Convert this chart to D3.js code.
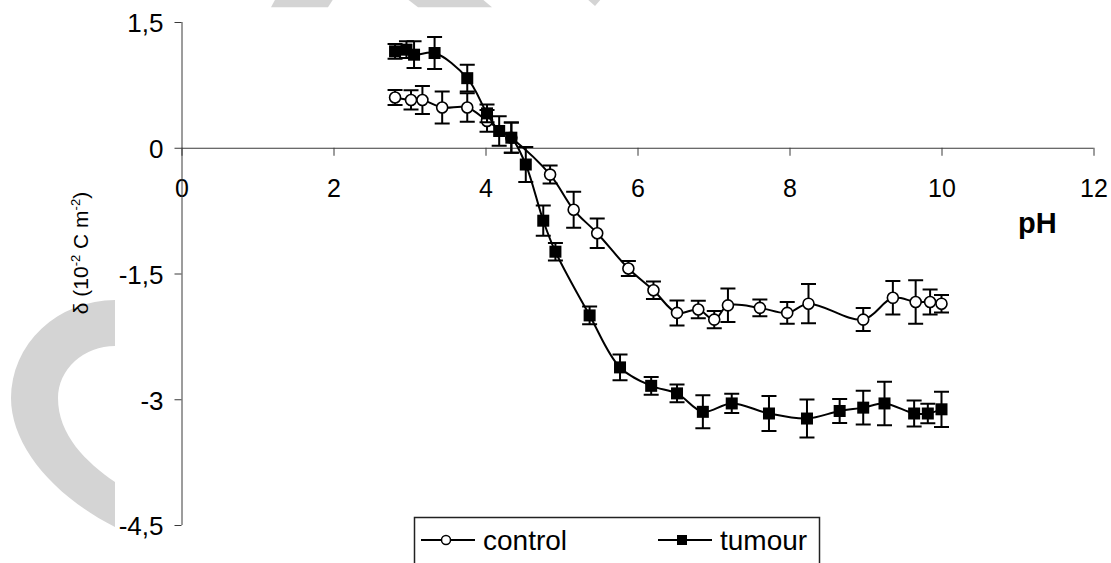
<!DOCTYPE html>
<html>
<head>
<meta charset="utf-8">
<script src="https://cdnjs.cloudflare.com/ajax/libs/d3/7.8.5/d3.min.js"></script>
<style>
  body { margin: 0; background: #fff; }
  svg { display: block; font-family: "Liberation Sans", Arial, sans-serif; }
</style>
</head>
<body>
<div class="chart"></div>
<script>
// pH values and surface charge density (10^-2 C m^-2)
var pHControl = [2.81, 3.02, 3.17, 3.43, 3.76, 4.02, 4.34, 4.85, 5.16, 5.47, 5.88, 6.21,
                 6.52, 6.80, 7.01, 7.19, 7.61, 7.97, 8.25, 8.97, 9.36, 9.66, 9.85, 10.0];
var control = [0.60, 0.57, 0.57, 0.48, 0.48, 0.32, 0.12, -0.32, -0.74, -1.02, -1.44, -1.70,
               -1.97, -1.93, -2.05, -1.88, -1.91, -1.97, -1.86, -2.05, -1.79, -1.84, -1.84, -1.86];
var controlErr = [0.09, 0.115, 0.167, 0.19, 0.17, 0.13, 0.18, 0.107, 0.215, 0.177, 0.09, 0.105,
                  0.149, 0.105, 0.103, 0.2, 0.1, 0.13, 0.234, 0.137, 0.2, 0.258, 0.149, 0.105];

var pHTumour = [2.81, 2.96, 3.06, 3.33, 3.76, 4.02, 4.18, 4.34, 4.53, 4.76, 4.92, 5.37, 5.77,
                6.18, 6.52, 6.86, 7.24, 7.73, 8.23, 8.66, 8.97, 9.25, 9.64, 9.82, 10.0];
var tumour = [1.15, 1.17, 1.11, 1.13, 0.83, 0.41, 0.20, 0.12, -0.20, -0.87, -1.24, -2.0, -2.62,
              -2.84, -2.93, -3.15, -3.05, -3.17, -3.23, -3.14, -3.10, -3.05, -3.17, -3.17, -3.12];
var tumourErr = [0.087, 0.1, 0.16, 0.19, 0.16, 0.105, 0.175, 0.18, 0.21, 0.18, 0.105, 0.105, 0.153,
                 0.105, 0.105, 0.197, 0.115, 0.21, 0.227, 0.143, 0.2, 0.26, 0.155, 0.115, 0.21];

var xTicks = [0, 2, 4, 6, 8, 10, 12];
var yTicks = [1.5, 0, -1.5, -3, -4.5];

var W = 1111, H = 563;
var x = d3.scaleLinear().domain([0, 12]).range([181.5, 1093.5]);
var y = d3.scaleLinear().domain([-4.5, 1.5]).range([525, 22]);
var fmt = function (d) { return String(d).replace('.', ','); };

var svg = d3.select('.chart').append('svg')
  .attr('width', W).attr('height', H);

// grey watermark pieces
var wm = svg.append('g').attr('fill', '#d4d4d4');
wm.append('path').attr('d', 'M276,-2L334,-2L328,7.3L271,7.3Z');
wm.append('path').attr('d', 'M406,-2L481,-2L492,7.3L418,7.3Z');
wm.append('path').attr('d', 'M586,-2L602,-2L595,6Z');
wm.append('path').attr('d',
  'M115,300 A104,98 0 0 0 11,398 C11,445 52,495 115,527 L115,482 ' +
  'C86,462 58,435 58,398 A57,52 0 0 1 115,346 Z');

// axes
var axisCol = '#3a3a3a';
var gx = svg.append('g').attr('transform', 'translate(0,' + y(0) + ')')
  .call(d3.axisBottom(x).tickValues(xTicks).tickSize(8).tickFormat(fmt));
gx.select('.domain').attr('stroke', axisCol).attr('d', 'M' + x(0) + ',0.5H' + x(12));
gx.selectAll('.tick line').attr('stroke', axisCol);
gx.selectAll('.tick text').attr('font-size', 25).attr('fill', '#000').attr('dy', 0)
  .attr('y', 49);

var gy = svg.append('g').attr('transform', 'translate(' + x(0) + ',0)')
  .call(d3.axisLeft(y).tickValues(yTicks).tickSize(7).tickFormat(fmt));
gy.select('.domain').attr('stroke', axisCol).attr('d', 'M0.5,' + y(1.5) + 'V' + y(-4.5));
gy.selectAll('.tick line').attr('stroke', axisCol);
gy.selectAll('.tick text').attr('font-size', 26).attr('fill', '#000')
  .attr('x', -18).attr('dy', '0.38em');

svg.append('text').attr('x', 1018).attr('y', 233)
  .attr('font-size', 29).attr('font-weight', 'bold').text('pH');

var yl = svg.append('text')
  .attr('transform', 'translate(88,253) rotate(-90)')
  .attr('text-anchor', 'middle').attr('font-size', 21);
yl.append('tspan').text('\u03b4 (10');
yl.append('tspan').attr('font-size', 13).attr('dy', -8).text('-2');
yl.append('tspan').attr('dy', 8).text(' C m');
yl.append('tspan').attr('font-size', 13).attr('dy', -8).text('-2');
yl.append('tspan').attr('dy', 8).text(')');

// series
var series = [
  { name: 'control', xs: pHControl, ys: control, err: controlErr, marker: 'circle' },
  { name: 'tumour', xs: pHTumour, ys: tumour, err: tumourErr, marker: 'square' }
];

var line = d3.line()
  .x(function (d) { return x(d.x); })
  .y(function (d) { return y(d.y); })
  .curve(d3.curveCatmullRom.alpha(0.5));

series.forEach(function (s) {
  var pts = s.xs.map(function (v, i) { return { x: v, y: s.ys[i], e: s.err[i] }; });
  var g = svg.append('g');
  g.append('path').datum(pts).attr('d', line)
    .attr('fill', 'none').attr('stroke', '#000').attr('stroke-width', 2);

  g.selectAll('.eb').data(pts).enter().append('path')
    .attr('fill', 'none').attr('stroke', '#000').attr('stroke-width', 2)
    .attr('d', function (d) {
      var cx = x(d.x), t = y(d.y + d.e), b = y(d.y - d.e);
      return 'M' + cx + ',' + t + 'V' + b +
        'M' + (cx - 7.5) + ',' + t + 'H' + (cx + 7.5) +
        'M' + (cx - 7.5) + ',' + b + 'H' + (cx + 7.5);
    });

  if (s.marker === 'circle') {
    g.selectAll('circle').data(pts).enter().append('circle')
      .attr('cx', function (d) { return x(d.x); })
      .attr('cy', function (d) { return y(d.y); })
      .attr('r', 5.5).attr('fill', '#fff').attr('stroke', '#000').attr('stroke-width', 1.6);
  } else {
    g.selectAll('rect').data(pts).enter().append('rect')
      .attr('x', function (d) { return x(d.x) - 6; })
      .attr('y', function (d) { return y(d.y) - 6; })
      .attr('width', 12).attr('height', 12).attr('fill', '#000');
  }
});

// legend
var lg = svg.append('g');
lg.append('rect').attr('x', 414.5).attr('y', 517.5).attr('width', 405).attr('height', 70)
  .attr('fill', '#fff').attr('stroke', '#222').attr('stroke-width', 1.5);
lg.append('line').attr('x1', 421).attr('x2', 475).attr('y1', 540).attr('y2', 540)
  .attr('stroke', '#000').attr('stroke-width', 2);
lg.append('circle').attr('cx', 446).attr('cy', 540).attr('r', 4.5)
  .attr('fill', '#fff').attr('stroke', '#000').attr('stroke-width', 1.5);
lg.append('text').attr('x', 483).attr('y', 550).attr('font-size', 28).text('control');
lg.append('line').attr('x1', 658).attr('x2', 712).attr('y1', 540).attr('y2', 540)
  .attr('stroke', '#000').attr('stroke-width', 2);
lg.append('rect').attr('x', 677).attr('y', 535).attr('width', 10).attr('height', 10)
  .attr('fill', '#000');
lg.append('text').attr('x', 720).attr('y', 550).attr('font-size', 28).text('tumour');
</script>
</body>
</html>
